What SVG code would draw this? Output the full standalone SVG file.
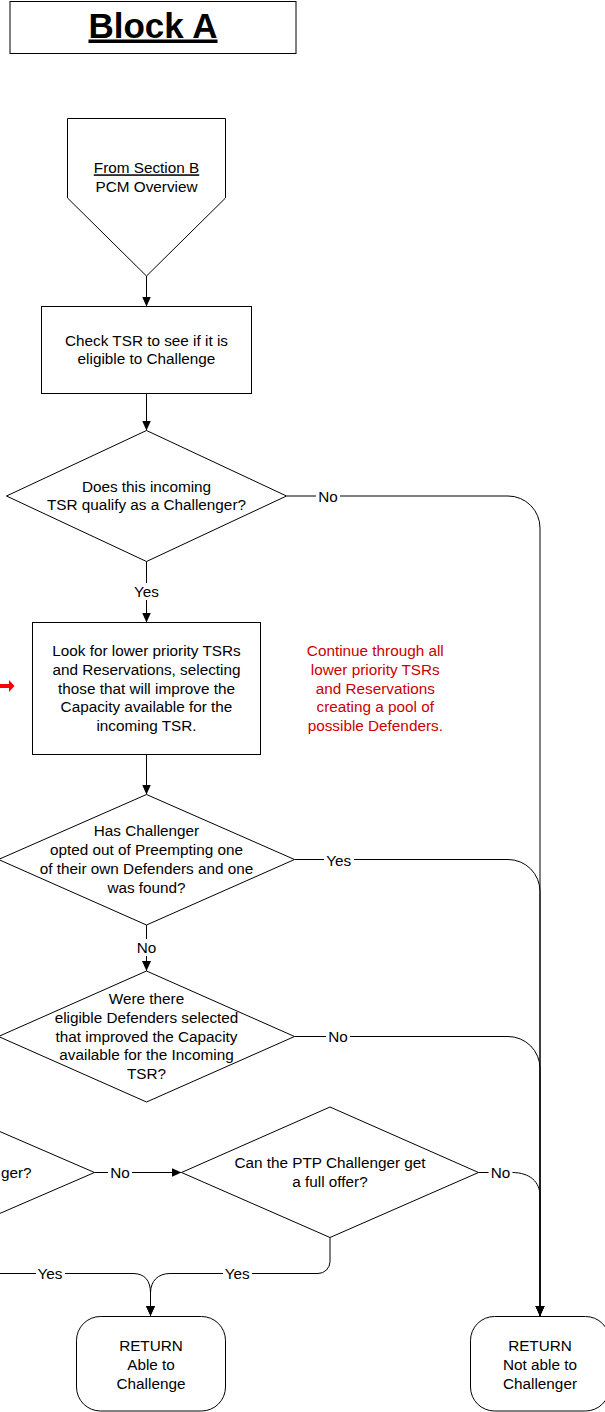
<svg xmlns="http://www.w3.org/2000/svg" width="605" height="1412" viewBox="0 0 605 1412">
<style>
.s{fill:#fff;stroke:#000;stroke-width:1}
.t{font-family:"Liberation Sans",Arial,sans-serif;font-size:15.3px;fill:#000;text-anchor:middle}
.r{fill:#cc0000}
.c{fill:none;stroke:#000;stroke-width:1}
.lb{fill:#fff;stroke:none}
</style>
<defs>
<marker id="ah" markerWidth="10" markerHeight="10" refX="10" refY="5" orient="auto" markerUnits="userSpaceOnUse" viewBox="0 0 10 10">
<path d="M0,0.5 L10,5 L0,9.5 Z" fill="#000"/>
</marker>
</defs>
<rect width="605" height="1412" fill="#fff"/>

<g id="title">
<rect class="s" x="10" y="1.5" width="286" height="52"/>
<text x="153" y="37.5" style="font-family:'Liberation Sans',Arial,sans-serif;font-size:35px;font-weight:bold;text-anchor:middle" text-decoration="underline">Block A</text>
</g>

<g id="connectors">
<path class="c" d="M146.5,276 V306.5" marker-end="url(#ah)"/>
<path class="c" d="M146.5,393.5 V430.5" marker-end="url(#ah)"/>
<path class="c" d="M286.5,496 H508 A32,32 0 0 1 540,528 V1316" marker-end="url(#ah)"/>
<path class="c" d="M146.5,561.5 V622.5" marker-end="url(#ah)"/>
<path class="c" d="M146.5,754.5 V794.5" marker-end="url(#ah)"/>
<path class="c" d="M294.5,859.5 H508 A32,32 0 0 1 540,891.5 V1316" marker-end="url(#ah)"/>
<path class="c" d="M146.5,925 V971" marker-end="url(#ah)"/>
<path class="c" d="M294.5,1036.5 H508 A32,32 0 0 1 540,1068.5 V1316" marker-end="url(#ah)"/>
<path class="c" d="M94.5,1172.5 H181.5" marker-end="url(#ah)"/>
<path class="c" d="M478.5,1172.5 H512 C530,1172.5 540,1182 540,1196 V1316" marker-end="url(#ah)"/>
<path class="c" d="M330,1237.5 V1261.5 A12,12 0 0 1 318,1273.5 H170 C158,1273.5 150.5,1281 150.5,1293 V1316" marker-end="url(#ah)"/>
<path class="c" d="M-53.5,1236.5 V1261.5 A12,12 0 0 0 -41.5,1273.5 H133 C145,1273.5 150.5,1281 150.5,1293 V1316" marker-end="url(#ah)"/>
<path d="M0,684 H9 V680 L14.5,686 L9,692 V688 H0 Z" fill="#ff0000"/>
</g>

<g id="labels">
<rect class="lb" x="316" y="488" width="24" height="16"/>
<text class="t" x="328" y="502">No</text>
<rect class="lb" x="132" y="583" width="29" height="17"/>
<text class="t" x="146.5" y="596.7">Yes</text>
<rect class="lb" x="324" y="851" width="30" height="16"/>
<text class="t" x="338.7" y="865.5">Yes</text>
<rect class="lb" x="135" y="939" width="23" height="17"/>
<text class="t" x="146.5" y="952.7">No</text>
<rect class="lb" x="326" y="1028" width="24" height="16"/>
<text class="t" x="338" y="1041.5">No</text>
<rect class="lb" x="108" y="1164" width="24" height="16"/>
<text class="t" x="120" y="1177.8">No</text>
<rect class="lb" x="488.5" y="1164" width="24" height="16"/>
<text class="t" x="500.5" y="1177.8">No</text>
<rect class="lb" x="36" y="1265" width="29" height="16"/>
<text class="t" x="50" y="1278.8">Yes</text>
<rect class="lb" x="223" y="1265" width="29" height="16"/>
<text class="t" x="237.3" y="1278.8">Yes</text>
</g>

<g id="from-section-b">
<path class="s" d="M67.5,118.5 H225.5 V198 L146.5,276 L67.5,198 Z"/>
<text class="t" x="146.5" y="173.3" text-decoration="underline">From Section B</text>
<text class="t" x="146.5" y="192">PCM Overview</text>
</g>

<g id="check-tsr">
<rect class="s" x="41.5" y="306.5" width="210" height="87"/>
<text class="t" x="146.5" y="345.5">Check TSR to see if it is</text>
<text class="t" x="146.5" y="364.3">eligible to Challenge</text>
</g>

<g id="qualify">
<path class="s" d="M146.5,430.5 L286.5,496 L146.5,561.5 L6.5,496 Z"/>
<text class="t" x="146.5" y="491.5">Does this incoming</text>
<text class="t" x="146.5" y="510.2">TSR qualify as a Challenger?</text>
</g>

<g id="look-for">
<rect class="s" x="32.5" y="622.5" width="228" height="132"/>
<text class="t" x="146.5" y="656">Look for lower priority TSRs</text>
<text class="t" x="146.5" y="674.8">and Reservations, selecting</text>
<text class="t" x="146.5" y="693.6">those that will improve the</text>
<text class="t" x="146.5" y="712.3">Capacity available for the</text>
<text class="t" x="146.5" y="731">incoming TSR.</text>
</g>

<g id="note">
<text class="t r" x="375.3" y="656">Continue through all</text>
<text class="t r" x="375.3" y="674.8">lower priority TSRs</text>
<text class="t r" x="375.3" y="693.6">and Reservations</text>
<text class="t r" x="375.3" y="712.3">creating a pool of</text>
<text class="t r" x="375.3" y="731">possible Defenders.</text>
</g>

<g id="opted-out">
<path class="s" d="M146.5,794.5 L294.5,859.5 L146.5,925 L-1.5,859.5 Z"/>
<text class="t" x="146.5" y="836">Has Challenger</text>
<text class="t" x="146.5" y="855">opted out of Preempting one</text>
<text class="t" x="146.5" y="874">of their own Defenders and one</text>
<text class="t" x="146.5" y="892.7">was found?</text>
</g>

<g id="eligible-defenders">
<path class="s" d="M146.5,971 L294.5,1036.5 L146.5,1102 L-1.5,1036.5 Z"/>
<text class="t" x="146.5" y="1004.3">Were there</text>
<text class="t" x="146.5" y="1023">eligible Defenders selected</text>
<text class="t" x="146.5" y="1041.7">that improved the Capacity</text>
<text class="t" x="146.5" y="1060.3">available for the Incoming</text>
<text class="t" x="146.5" y="1079">TSR?</text>
</g>

<g id="challenger-type">
<path class="s" d="M-53.5,1108.5 L94.5,1172.5 L-53.5,1236.5 L-201.5,1172.5 Z"/>
<text class="t" x="1" y="1177.5" style="text-anchor:start">ger?</text>
</g>

<g id="full-offer">
<path class="s" d="M330,1107 L478.5,1172.5 L330,1237.5 L181.5,1172.5 Z"/>
<text class="t" x="330" y="1168.3">Can the PTP Challenger get</text>
<text class="t" x="330" y="1186.8">a full offer?</text>
</g>

<g id="return-able">
<rect class="s" x="76.5" y="1316.5" width="149" height="94.5" rx="24" ry="24"/>
<text class="t" x="151" y="1350.7">RETURN</text>
<text class="t" x="151" y="1369.7">Able to</text>
<text class="t" x="151" y="1388.7">Challenge</text>
</g>

<g id="return-not-able">
<rect class="s" x="470.5" y="1316.5" width="139" height="94.5" rx="24" ry="24"/>
<text class="t" x="540" y="1350.7">RETURN</text>
<text class="t" x="540" y="1369.7">Not able to</text>
<text class="t" x="540" y="1388.7">Challenger</text>
</g>
</svg>
